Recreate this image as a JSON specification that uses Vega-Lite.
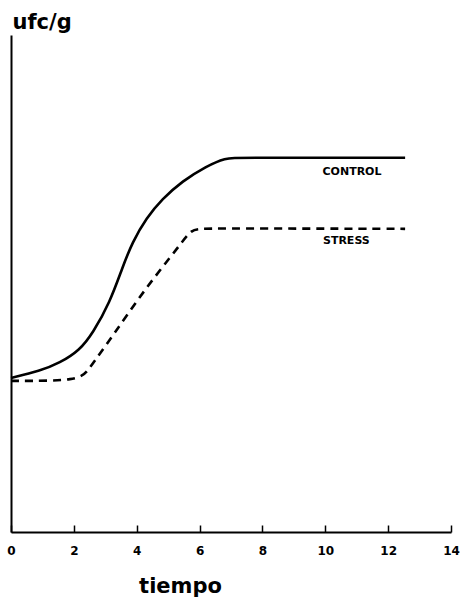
{
  "$schema": "https://vega.github.io/schema/vega-lite/v6.json",
  "width": 440,
  "height": 497,
  "autosize": "none",
  "padding": {"left": 11, "top": 35, "right": 10, "bottom": 68},
  "background": "white",
  "config": {
    "view": {"stroke": null},
    "axis": {"grid": false, "domainColor": "black", "tickColor": "black", "labelColor": "black", "titleColor": "black", "labelFont": "DejaVu Sans", "titleFont": "DejaVu Sans"}
  },
  "datasets": {
    "curves": [
      {"serie": "CONTROL", "tiempo": 0, "ufc": 31.0},
      {"serie": "CONTROL", "tiempo": 0.92, "ufc": 32.4},
      {"serie": "CONTROL", "tiempo": 1.55, "ufc": 34.0},
      {"serie": "CONTROL", "tiempo": 2.19, "ufc": 36.6},
      {"serie": "CONTROL", "tiempo": 2.6, "ufc": 40.0},
      {"serie": "CONTROL", "tiempo": 3.14, "ufc": 46.1},
      {"serie": "CONTROL", "tiempo": 3.55, "ufc": 53.3},
      {"serie": "CONTROL", "tiempo": 3.86, "ufc": 58.3},
      {"serie": "CONTROL", "tiempo": 4.31, "ufc": 63.2},
      {"serie": "CONTROL", "tiempo": 4.81, "ufc": 67.0},
      {"serie": "CONTROL", "tiempo": 5.45, "ufc": 70.6},
      {"serie": "CONTROL", "tiempo": 6.21, "ufc": 73.6},
      {"serie": "CONTROL", "tiempo": 6.84, "ufc": 75.3},
      {"serie": "CONTROL", "tiempo": 7.2, "ufc": 75.3},
      {"serie": "CONTROL", "tiempo": 12.54, "ufc": 75.3},
      {"serie": "CONTROL", "tiempo": 12.54, "ufc": 75.3},
      {"serie": "STRESS", "tiempo": 0, "ufc": 30.4},
      {"serie": "STRESS", "tiempo": 0, "ufc": 30.4},
      {"serie": "STRESS", "tiempo": 2.2, "ufc": 30.4},
      {"serie": "STRESS", "tiempo": 2.45, "ufc": 32.6},
      {"serie": "STRESS", "tiempo": 3.23, "ufc": 39.4},
      {"serie": "STRESS", "tiempo": 4.31, "ufc": 49.3},
      {"serie": "STRESS", "tiempo": 5.35, "ufc": 57.5},
      {"serie": "STRESS", "tiempo": 5.75, "ufc": 61.0},
      {"serie": "STRESS", "tiempo": 6.1, "ufc": 61.1},
      {"serie": "STRESS", "tiempo": 12.54, "ufc": 61.0},
      {"serie": "STRESS", "tiempo": 12.54, "ufc": 61.0}
    ],
    "labels": [
      {"serie": "CONTROL", "tiempo": 10.85, "ufc": 72.4},
      {"serie": "STRESS", "tiempo": 10.67, "ufc": 58.6}
    ]
  },
  "layer": [
    {
      "data": {"name": "curves"},
      "transform": [{"filter": "datum.serie === 'CONTROL'"}],
      "mark": {"type": "line", "interpolate": "basis", "color": "black", "strokeWidth": 2.6},
      "encoding": {
        "x": {
          "field": "tiempo", "type": "quantitative",
          "scale": {"domain": [0, 14], "nice": false},
          "axis": {
            "values": [0, 2, 4, 6, 8, 10, 12, 14],
            "title": "tiempo",
            "titleFontSize": 21, "titleFontWeight": "bold",
            "titleX": 169, "titleY": 60, "titleAlign": "center", "titleBaseline": "alphabetic",
            "labelFontSize": 12, "labelFontWeight": "bold",
            "tickSize": -7, "tickWidth": 1.5, "labelPadding": 20,
            "domainWidth": 2, "labelFlush": false
          }
        },
        "y": {
          "field": "ufc", "type": "quantitative",
          "scale": {"domain": [0, 100], "nice": false},
          "axis": {
            "ticks": false, "labels": false,
            "title": "ufc/g",
            "titleAngle": 0, "titleFontSize": 21, "titleFontWeight": "bold",
            "titleX": 1, "titleY": -7, "titleAlign": "left", "titleBaseline": "alphabetic",
            "domainWidth": 2
          }
        }
      }
    },
    {
      "data": {"name": "curves"},
      "transform": [{"filter": "datum.serie === 'STRESS'"}],
      "mark": {"type": "line", "interpolate": "basis", "color": "black", "strokeWidth": 2.6, "strokeDash": [8, 6]},
      "encoding": {
        "x": {"field": "tiempo", "type": "quantitative"},
        "y": {"field": "ufc", "type": "quantitative"}
      }
    },
    {
      "data": {"name": "labels"},
      "mark": {"type": "text", "font": "DejaVu Sans", "fontWeight": "bold", "fontSize": 11, "color": "black", "align": "center", "baseline": "middle"},
      "encoding": {
        "x": {"field": "tiempo", "type": "quantitative"},
        "y": {"field": "ufc", "type": "quantitative"},
        "text": {"field": "serie"}
      }
    }
  ]
}
